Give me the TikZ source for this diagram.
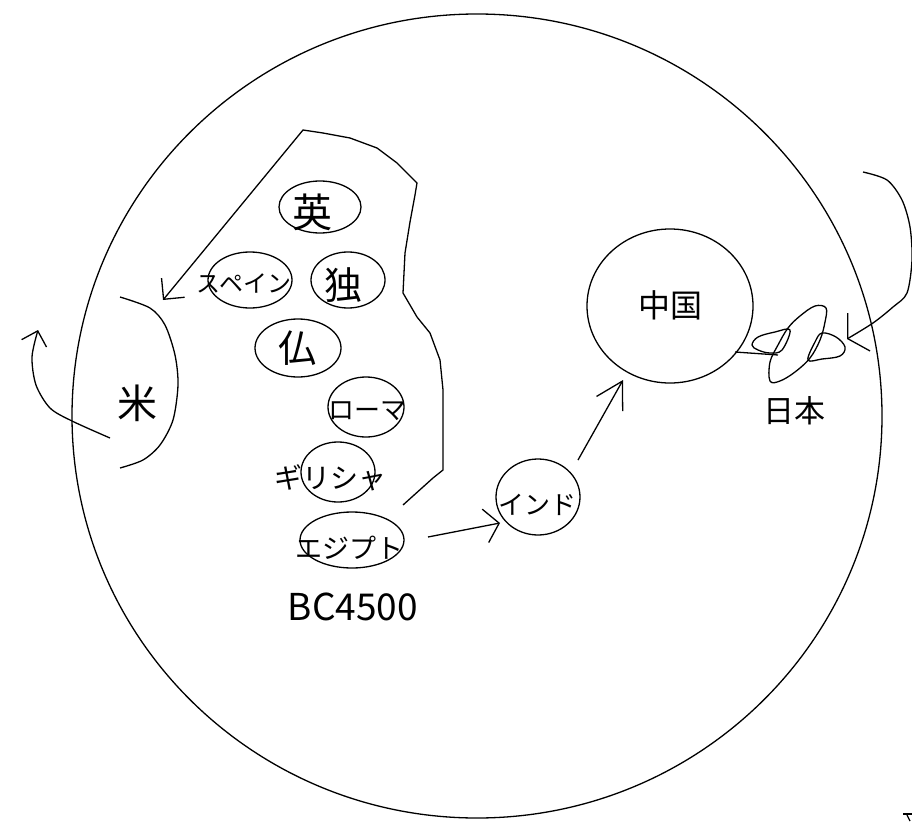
\documentclass[tikz,border=0pt]{standalone}
\usepackage{fontspec}
\newfontfamily\jp{Noto Sans CJK JP}
\usetikzlibrary{shapes.geometric,arrows.meta}
\tikzset{
  ink/.style={draw=black, line width=1.3pt},
  oval/.style={ellipse, ink, inner sep=0pt},
  lbl/.style={inner sep=0pt, font=\jp\fontsize{#1}{#1}\selectfont},
}
\begin{document}
\begin{tikzpicture}[x=1pt,y=-1pt]
\useasboundingbox (0,0) rectangle (912,824);
\fill[white] (0,0) rectangle (912,824);

% world
\node[oval, minimum width=810pt, minimum height=804pt] (earth) at (477,416) {};

% europe ovals
\node[oval, minimum width=82pt, minimum height=52pt] (eiE) at (320,207) {};
\node[oval, minimum width=84pt, minimum height=56pt] (spE) at (250,280) {};
\node[oval, minimum width=74pt, minimum height=56pt] (doE) at (348,280) {};
\node[oval, minimum width=86pt, minimum height=58pt] (frE) at (298,348) {};
\node[oval, minimum width=76pt, minimum height=60pt] (roE) at (366,407) {};
\node[oval, minimum width=74pt, minimum height=60pt] (grE) at (338,472) {};
\node[oval, minimum width=104pt, minimum height=56pt] (egE) at (352,540) {};
\node[oval, minimum width=84pt, minimum height=76pt] (inE) at (538,497) {};
\node[oval, minimum width=166pt, minimum height=154pt] (cnE) at (670,306) {};

% labels
\node[lbl=40] (ei) at (312,212) {英};
\node[lbl=24] (sp) at (244,283) {スペイン};
\node[lbl=38] (do) at (343,285) {独};
\node[lbl=38] (fr) at (297,348) {仏};
\node[lbl=26] (ro) at (367,411) {ローマ};
\node[lbl=28] (gr) at (330,478) {ギリシャ};
\node[lbl=27] (eg) at (349,548) {エジプト};
\node[lbl=26] (in) at (537,505) {インド};
\node[lbl=32] (cn) at (670,305) {中国};
\node[lbl=31] (jp) at (794,411) {日本};
\node[lbl=40] (us) at (137,403) {米};
\node[lbl=37] (bc) at (353,607) {BC4500};

% europe outline with arrow toward spain
\draw[ink, line join=round, {Straight Barb[length=15pt,width=30pt]}-]
  (163,300) -- (303,130) -- (323,133) -- (350,138) -- (377,148) -- (397,163)
  -- (417,183) -- (415,195) -- (410,222) -- (405,253) -- (403,293) -- (417,317)
  -- (430,333) -- (440,360) -- (443,390) -- (443,470) -- (433,478) -- (403,505);

% america bracket
\draw[ink] plot[smooth] coordinates {(120,297) (150,308) (165,325) (175,355) (178,385) (173,420) (160,445) (143,460) (120,468)};

% arrow leaving america westward
\draw[ink, -{Straight Barb[length=13pt,width=26pt]}]
  plot[smooth] coordinates {(110,438) (72,421) (50,408) (36,385) (32,357) (38,330)};

% arrow coming into japan from the east
\draw[ink, -{Straight Barb[length=13pt,width=44pt]}]
  plot[smooth] coordinates {(863,172) (887,180) (902,200) (910,227) (912,260) (907,293) (893,307) (873,323) (847,339)};

% route arrows
\coordinate (egOut) at (428,537);
\coordinate (inTip) at (500,523);
\draw[ink, -{Straight Barb[length=14pt,width=34pt]}] (egOut) -- (inTip);
\coordinate (inOut) at (578,460);
\coordinate (cnTip) at (623,380);
\draw[ink, -{Straight Barb[length=26pt,width=30pt]}] (inOut) -- (cnTip);

% japan
\coordinate (cnR) at (735,352);
\coordinate (jpL) at (778,355);
\draw[ink] (cnR) -- (jpL);
\draw[ink] plot[smooth cycle, tension=0.6] coordinates {(770,381) (780,381) (795,372) (810,358) (820,340) (825,322) (826,308) (815,306) (800,316) (788,328) (778,345) (770,362)};
\draw[ink] plot[smooth cycle, tension=0.6] coordinates {(752,345) (758,337) (775,332) (790,330) (782,350) (770,353) (758,350)};
\draw[ink] plot[smooth cycle, tension=0.6] coordinates {(815,342) (822,333) (836,337) (845,347) (840,356) (822,359) (808,360)};

% cut-off mark at the corner
\draw[ink] (903,814) -- (912,814);
\draw[ink] (907,815) -- (910,821);
\end{tikzpicture}
\end{document}
